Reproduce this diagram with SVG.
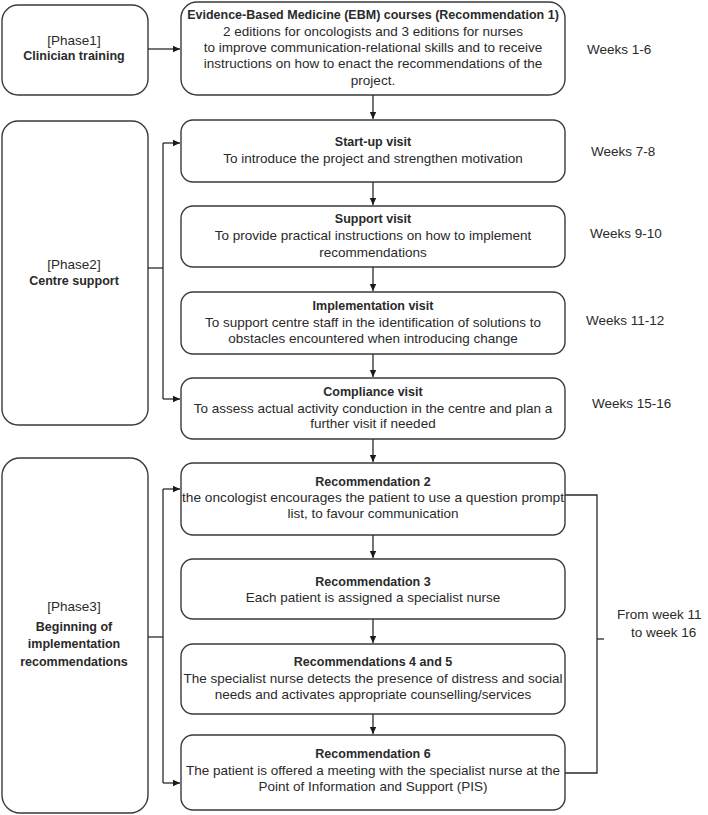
<svg xmlns="http://www.w3.org/2000/svg" width="708" height="815" viewBox="0 0 708 815">
<style>
.box{fill:#fff;stroke:#3a3a3a;stroke-width:1.4}
.t{font-family:"Liberation Sans",Arial,sans-serif;font-size:13.5px;fill:#2a2a2a;text-anchor:middle}
.b{font-weight:bold;font-size:12.5px}
.w{font-family:"Liberation Sans",Arial,sans-serif;font-size:13.5px;fill:#2a2a2a}
.c{fill:none;stroke:#2a2a2a;stroke-width:1.3}
</style>
<defs>
<marker id="ah" markerWidth="8" markerHeight="8" refX="7" refY="4" orient="auto" markerUnits="userSpaceOnUse">
<path d="M0,0.8 L7,4 L0,7.2 Z" fill="#1a1a1a"/>
</marker>
</defs>
<rect width="708" height="815" fill="#fff"/>

<g id="phase1">
<rect class="box" x="2" y="5" width="146" height="90" rx="16"/>
<text class="t" x="74" y="45">[Phase1]</text>
<text class="t b" x="74" y="60">Clinician training</text>
</g>
<g id="ebm">
<rect class="box" x="181" y="2" width="384" height="93" rx="16"/>
<text class="t b" x="373" y="19">Evidence-Based Medicine (EBM) courses (Recommendation 1)</text>
<text class="t" x="373" y="36">2 editions for oncologists and 3 editions for nurses</text>
<text class="t" x="373" y="52">to improve communication-relational skills and to receive</text>
<text class="t" x="373" y="68">instructions on how to enact the recommendations of the</text>
<text class="t" x="373" y="85">project.</text>
</g>
<g id="phase2">
<rect class="box" x="2" y="121" width="146" height="304" rx="16"/>
<text class="t" x="74" y="269">[Phase2]</text>
<text class="t b" x="74" y="285">Centre support</text>
</g>
<g id="startup">
<rect class="box" x="181" y="120" width="384" height="62" rx="12"/>
<text class="t b" x="373" y="146">Start-up visit</text>
<text class="t" x="373" y="163">To introduce the project and strengthen motivation</text>
</g>
<g id="support">
<rect class="box" x="181" y="206" width="384" height="61" rx="12"/>
<text class="t b" x="373" y="223">Support visit</text>
<text class="t" x="373" y="240">To provide practical instructions on how to implement</text>
<text class="t" x="373" y="257">recommendations</text>
</g>
<g id="implementation">
<rect class="box" x="181" y="292" width="384" height="62" rx="12"/>
<text class="t b" x="373" y="310">Implementation visit</text>
<text class="t" x="373" y="327">To support centre staff in the identification of solutions to</text>
<text class="t" x="373" y="343">obstacles encountered when introducing change</text>
</g>
<g id="compliance">
<rect class="box" x="181" y="378" width="384" height="61" rx="12"/>
<text class="t b" x="373" y="396">Compliance visit</text>
<text class="t" x="373" y="413">To assess actual activity conduction in the centre and plan a</text>
<text class="t" x="373" y="428">further visit if needed</text>
</g>
<g id="phase3">
<rect class="box" x="2" y="458" width="146" height="355" rx="18"/>
<text class="t" x="74" y="611">[Phase3]</text>
<text class="t b" x="74" y="631">Beginning of</text>
<text class="t b" x="74" y="648">implementation</text>
<text class="t b" x="74" y="666">recommendations</text>
</g>
<g id="rec2">
<rect class="box" x="181" y="463" width="384" height="72" rx="12"/>
<text class="t b" x="373" y="486">Recommendation 2</text>
<text class="t" x="373" y="502" textLength="382" lengthAdjust="spacingAndGlyphs">the oncologist encourages the patient to use a question prompt</text>
<text class="t" x="373" y="518">list, to favour communication</text>
</g>
<g id="rec3">
<rect class="box" x="181" y="559" width="384" height="60" rx="12"/>
<text class="t b" x="373" y="586">Recommendation 3</text>
<text class="t" x="373" y="602">Each patient is assigned a specialist nurse</text>
</g>
<g id="rec45">
<rect class="box" x="181" y="644" width="384" height="70" rx="12"/>
<text class="t b" x="373" y="666">Recommendations 4 and 5</text>
<text class="t" x="373" y="683">The specialist nurse detects the presence of distress and social</text>
<text class="t" x="373" y="699">needs and activates appropriate counselling/services</text>
</g>
<g id="rec6">
<rect class="box" x="181" y="735" width="384" height="75" rx="12"/>
<text class="t b" x="373" y="758">Recommendation 6</text>
<text class="t" x="373" y="775">The patient is offered a meeting with the specialist nurse at the</text>
<text class="t" x="373" y="791">Point of Information and Support (PIS)</text>
</g>

<g id="labels">
<text class="w" x="587" y="54">Weeks 1-6</text>
<text class="w" x="591" y="156">Weeks 7-8</text>
<text class="w" x="590" y="238">Weeks 9-10</text>
<text class="w" x="586" y="325">Weeks 11-12</text>
<text class="w" x="592" y="408">Weeks 15-16</text>
<text class="w" x="617" y="619">From week 11</text>
<text class="w" x="631" y="637">to week 16</text>
</g>

<g id="connectors">
<path class="c" d="M148,49 H180" marker-end="url(#ah)"/>
<path class="c" d="M373,95 V119" marker-end="url(#ah)"/>
<path class="c" d="M373,182 V205" marker-end="url(#ah)"/>
<path class="c" d="M373,267 V291" marker-end="url(#ah)"/>
<path class="c" d="M373,354 V377" marker-end="url(#ah)"/>
<path class="c" d="M373,439 V462" marker-end="url(#ah)"/>
<path class="c" d="M373,535 V558" marker-end="url(#ah)"/>
<path class="c" d="M373,619 V643" marker-end="url(#ah)"/>
<path class="c" d="M373,714 V734" marker-end="url(#ah)"/>
<path class="c" d="M148,268 H163"/>
<path class="c" d="M163,143 V399"/>
<path class="c" d="M163,143 H180" marker-end="url(#ah)"/>
<path class="c" d="M163,399 H180" marker-end="url(#ah)"/>
<path class="c" d="M148,637 H163"/>
<path class="c" d="M163,489 V783"/>
<path class="c" d="M163,489 H180" marker-end="url(#ah)"/>
<path class="c" d="M163,783 H180" marker-end="url(#ah)"/>
<path class="c" d="M565,495 H597 V773 H565"/>
<path class="c" d="M597,639 H604"/>
</g>
</svg>
